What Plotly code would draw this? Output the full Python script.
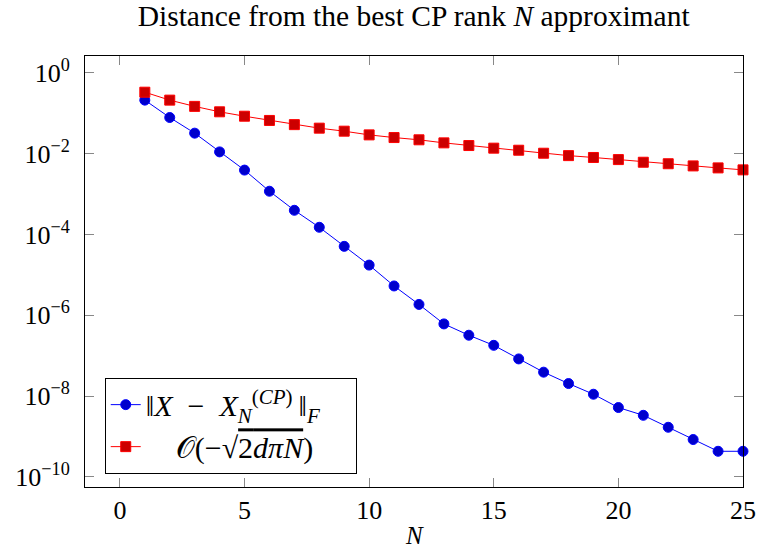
import plotly.graph_objects as go

N = list(range(1, 26))
err_cp = [0.21, 0.078, 0.032, 0.011, 0.0039, 0.00117, 0.000395, 0.00015, 5.06e-5, 1.74e-5,
          5.3e-6, 1.85e-6, 6.1e-7, 3.2e-7, 1.8e-7, 8.3e-8, 3.9e-8, 2.04e-8, 1.11e-8, 5.2e-9,
          3.34e-9, 1.69e-9, 8.4e-10, 4.3e-10, 4.3e-10]
bound = [0.33, 0.21, 0.147, 0.108, 0.084, 0.066, 0.052, 0.0425, 0.0358, 0.029,
         0.0249, 0.0219, 0.0184, 0.0158, 0.0136, 0.0121, 0.0102, 0.0089, 0.0080, 0.0071,
         0.0061, 0.0056, 0.00495, 0.00442, 0.00395]

x_ticks = [0, 5, 10, 15, 20, 25]
y_tickvals = [1, 1e-2, 1e-4, 1e-6, 1e-8, 1e-10]
y_ticktext = ["10<sup>0</sup>", "10<sup>−2</sup>", "10<sup>−4</sup>", "10<sup>−6</sup>",
              "10<sup>−8</sup>", "10<sup>−10</sup>"]

name_cp = ("‖<i>X</i>\u2002−\u2002<i>X</i><sub><i>N</i></sub><sup>(<i>CP</i>)</sup>"
           "\u2009‖<sub><i>F</i></sub>\u2002\u2002")
name_bound = "\u2002\u2002𝒪(−√<span style=\"text-decoration:overline\">2<i>dπN</i></span>)"

FONT = "Liberation Serif"

fig = go.Figure()
fig.add_trace(go.Scatter(
    x=N, y=err_cp, mode="lines+markers", name=name_cp,
    line=dict(color="#0000FF", width=1),
    marker=dict(symbol="circle", size=10, color="#0000CC", line=dict(color="#0000FF", width=1)),
    cliponaxis=False,
))
fig.add_trace(go.Scatter(
    x=N, y=bound, mode="lines+markers", name=name_bound,
    line=dict(color="#FF0000", width=1),
    marker=dict(symbol="square", size=10, color="#CC0000", line=dict(color="#FF0000", width=1)),
    cliponaxis=False,
))

fig.update_layout(
    width=759, height=551,
    margin=dict(l=85, r=16, t=56, b=64, autoexpand=False),
    paper_bgcolor="white", plot_bgcolor="white",
    font=dict(family=FONT, size=26, color="black"),
    title=dict(text="Distance from the best CP rank <i>N</i> approximant",
               x=0.545, xanchor="center", y=0.99, yanchor="top",
               font=dict(family=FONT, size=29.5, color="black")),
    showlegend=True,
    legend=dict(x=0.03, y=0.031, xanchor="left", yanchor="bottom",
                bgcolor="white", bordercolor="black", borderwidth=1,
                font=dict(family=FONT, size=30, color="black"),
                tracegroupgap=0, itemwidth=30),
    annotations=[dict(text="<i>N</i>", xref="paper", yref="paper", x=0.5, y=-0.1127,
                      xanchor="center", yanchor="middle", showarrow=False,
                      font=dict(family=FONT, size=25, color="black"))],
)
fig.update_xaxes(
    range=[-1.4, 25.0], tickvals=x_ticks, ticks="inside", ticklen=9, tickcolor="#888888",
    showline=True, linecolor="black", linewidth=1, mirror="allticks", showgrid=False, zeroline=False,
    automargin=False,
    tickfont=dict(family=FONT, size=26),
)
fig.update_yaxes(
    type="log", range=[-10.25, 0.414], tickvals=y_tickvals, ticktext=y_ticktext,
    ticks="inside", ticklen=9, tickcolor="#888888", ticklabelstandoff=9,
    showline=True, linecolor="black", linewidth=1, mirror="allticks", showgrid=False, zeroline=False,
    automargin=False,
    tickfont=dict(family=FONT, size=26),
)

fig.write_html("out.html")
